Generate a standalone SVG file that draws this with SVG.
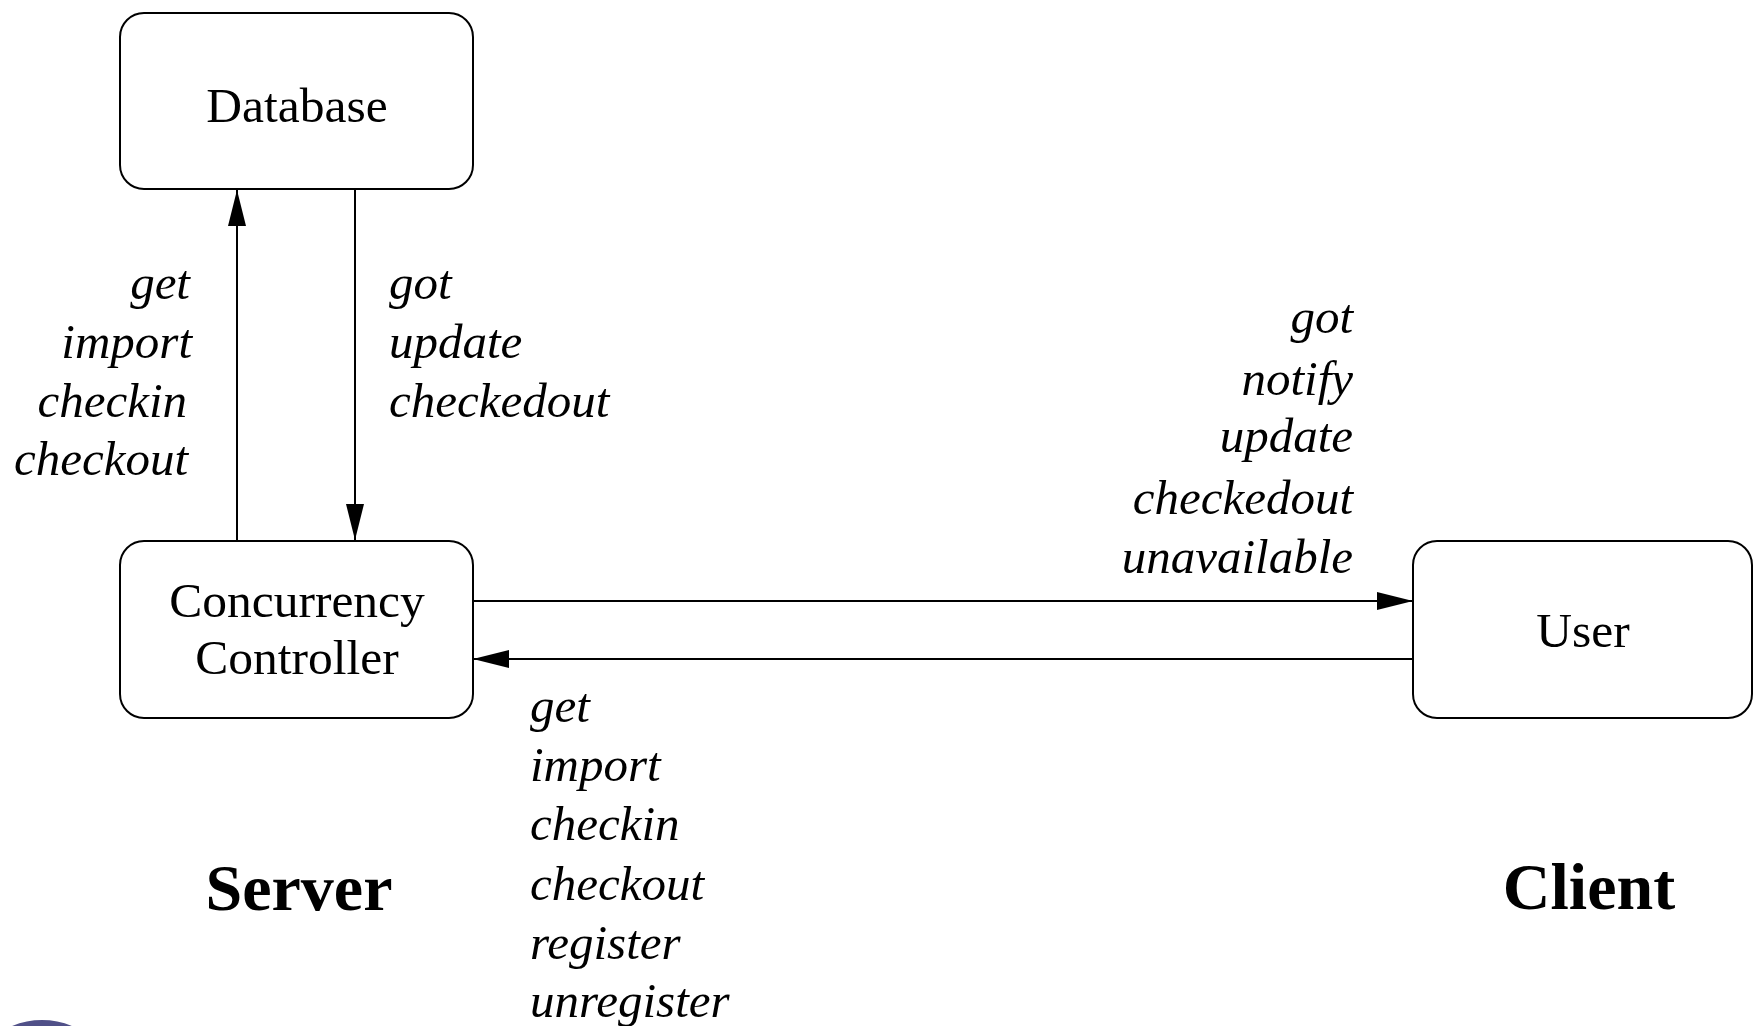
<svg xmlns="http://www.w3.org/2000/svg" width="1755" height="1026" viewBox="0 0 1755 1026">
<style>
.box{fill:#fff;stroke:#000;stroke-width:2}
.node{font-family:"Liberation Serif","Times New Roman",serif;font-size:49.5px;fill:#000;text-anchor:middle}
.lbl{font-family:"Liberation Serif","Times New Roman",serif;font-size:49px;font-style:italic;fill:#000}
.end{text-anchor:end}
.title{font-family:"Liberation Serif","Times New Roman",serif;font-size:66px;font-weight:bold;fill:#000;text-anchor:middle}
.edge{stroke:#000;stroke-width:2;fill:none}
</style>
<defs>
<marker id="arr" viewBox="0 0 36 18" refX="36" refY="9" markerWidth="36" markerHeight="18" markerUnits="userSpaceOnUse" orient="auto">
<path d="M0,0 L36,9 L0,18 Z" fill="#000"/>
</marker>
</defs>
<rect width="1755" height="1026" fill="#fff"/>
<g id="connectors">
<line class="edge" x1="237" y1="541" x2="237" y2="190" marker-end="url(#arr)"/>
<line class="edge" x1="355" y1="189" x2="355" y2="540" marker-end="url(#arr)"/>
<line class="edge" x1="473" y1="601" x2="1413" y2="601" marker-end="url(#arr)"/>
<line class="edge" x1="1413" y1="659" x2="473" y2="659" marker-end="url(#arr)"/>
</g>
<g id="database">
<rect class="box" x="120" y="13" width="353" height="176" rx="24" ry="24"/>
<text class="node" x="297" y="122">Database</text>
</g>
<g id="concurrency-controller">
<rect class="box" x="120" y="541" width="353" height="177" rx="24" ry="24"/>
<text class="node" x="297" y="617">Concurrency</text>
<text class="node" x="297" y="674">Controller</text>
</g>
<g id="user">
<rect class="box" x="1413" y="541" width="339" height="177" rx="24" ry="24"/>
<text class="node" x="1583" y="647">User</text>
</g>
<g id="labels-db-up">
<text class="lbl end" x="190" y="299">get</text>
<text class="lbl end" x="192" y="358">import</text>
<text class="lbl end" x="187" y="417">checkin</text>
<text class="lbl end" x="188" y="475">checkout</text>
</g>
<g id="labels-db-down">
<text class="lbl" x="389" y="299">got</text>
<text class="lbl" x="389" y="358">update</text>
<text class="lbl" x="389" y="417">checkedout</text>
</g>
<g id="labels-to-user">
<text class="lbl end" x="1353" y="333">got</text>
<text class="lbl end" x="1353" y="395">notify</text>
<text class="lbl end" x="1353" y="452">update</text>
<text class="lbl end" x="1353" y="514">checkedout</text>
<text class="lbl end" x="1353" y="573">unavailable</text>
</g>
<g id="labels-from-user">
<text class="lbl" x="530" y="722">get</text>
<text class="lbl" x="530" y="781">import</text>
<text class="lbl" x="530" y="840">checkin</text>
<text class="lbl" x="530" y="900">checkout</text>
<text class="lbl" x="530" y="959">register</text>
<text class="lbl" x="530" y="1017">unregister</text>
</g>
<g id="server-title"><text class="title" x="299" y="910">Server</text></g>
<g id="client-title"><text class="title" x="1589" y="909">Client</text></g>
<circle cx="42" cy="1098" r="78" fill="#505088"/>
</svg>
